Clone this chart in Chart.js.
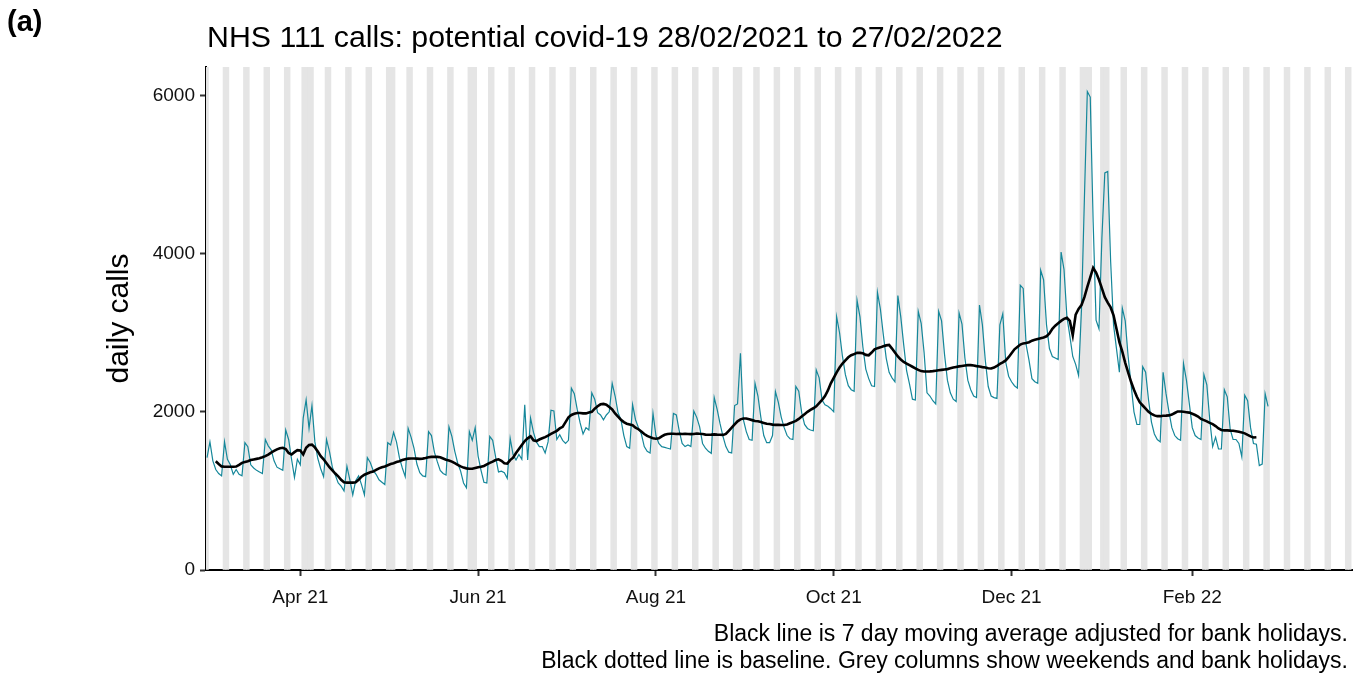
<!DOCTYPE html>
<html>
<head>
<meta charset="utf-8">
<script src="https://cdn.jsdelivr.net/npm/chart.js@4.4.1/dist/chart.umd.min.js"></script>
<style>
  html, body { margin: 0; padding: 0; background: #fff; }
  #wrap { width: 1362px; height: 674px; position: relative; }
</style>
</head>
<body>
<div id="wrap"><canvas id="chart" width="1362" height="674"></canvas></div>
<script>
// daily calls, one value a day starting 28/02/2021 (rows are Sun..Sat)
var startDate = '2021-02-28';
var dailyCalls = [
  1420,1620,1380,1270,1220,1190,1620,
  1400,1330,1210,1270,1210,1190,1610,
  1560,1330,1290,1260,1240,1220,1650,
  1570,1520,1380,1300,1280,1260,1770,
  1650,1400,1170,1400,1330,1920,2150,
  1790,2080,1620,1410,1280,1180,1650,
  1500,1300,1200,1100,1060,1000,1310,
  1140,950,1130,1190,1080,950,1420,
  1360,1260,1210,1140,1110,1080,1610,
  1580,1740,1620,1420,1290,1180,1790,
  1680,1540,1340,1230,1190,1180,1750,
  1700,1490,1370,1260,1220,1200,1810,
  1690,1500,1350,1250,1100,1040,1750,
  1640,1800,1440,1260,1110,1100,1690,
  1640,1430,1240,1250,1230,1160,1665,
  1460,1390,1460,1400,2090,1390,1920,
  1740,1620,1560,1560,1480,1620,2020,
  2010,1650,1710,1640,1600,1640,2300,
  2230,2030,1860,1720,1800,1770,2240,
  2160,1990,1960,1900,1960,2000,2360,
  2200,1990,1900,1700,1560,1540,2090,
  1900,1800,1720,1560,1500,1480,1980,
  1700,1600,1560,1550,1540,1530,1980,
  1960,1760,1600,1560,1580,1560,2010,
  1930,1810,1600,1540,1500,1475,2180,
  2030,1850,1690,1560,1490,1480,2080,
  2100,2740,1900,1750,1650,1640,2360,
  2200,1930,1700,1610,1610,1700,2255,
  2120,1930,1800,1700,1660,1650,2320,
  2260,1990,1840,1790,1770,1760,2530,
  2430,2150,2090,2070,2040,2000,3200,
  3000,2700,2470,2330,2280,2260,3410,
  3200,2820,2540,2420,2330,2320,3510,
  3300,2980,2680,2500,2430,2380,3470,
  3200,2850,2520,2350,2160,2150,3270,
  3120,2750,2240,2200,2140,2100,3270,
  3150,2730,2400,2240,2160,2130,3250,
  3110,2680,2400,2280,2200,2180,3350,
  3100,2650,2320,2200,2180,2170,3100,
  3240,2630,2450,2380,2330,2300,3600,
  3560,2850,2650,2420,2380,2360,3790,
  3670,3100,2800,2700,2680,2660,4020,
  3800,3200,2960,2700,2600,2460,3300,
  4700,6050,5980,4400,3160,3050,4200,
  5020,5040,3900,3100,2800,2500,3310,
  3150,2700,2350,2000,1840,1840,2570,
  2500,2150,1870,1720,1650,1620,2500,
  2230,2000,1800,1700,1660,1640,2610,
  2400,2100,1800,1700,1670,1650,2470,
  2340,1900,1560,1680,1530,1530,2280,
  2190,1780,1650,1650,1600,1430,2210,
  2140,1800,1600,1590,1320,1340,2230,
  2070
];

// 7 day moving average, first value is 03/03/2021
var avgStart = '2021-03-03';
var movingAvg = [
  1375,1340,1310,1305,1305,1305,1305,
  1308,1330,1355,1365,1375,1390,1398,
  1405,1412,1425,1440,1460,1485,1505,
  1525,1540,1545,1530,1480,1460,1490,
  1515,1510,1460,1545,1580,1585,1550,
  1500,1440,1400,1350,1300,1260,1220,
  1185,1140,1110,1105,1105,1105,1110,
  1140,1180,1205,1220,1235,1245,1265,
  1285,1300,1310,1325,1340,1350,1365,
  1375,1390,1400,1408,1410,1410,1408,
  1405,1408,1415,1425,1430,1432,1430,
  1425,1410,1395,1385,1370,1350,1330,
  1310,1295,1285,1280,1280,1290,1300,
  1305,1315,1335,1355,1370,1390,1400,
  1380,1350,1345,1390,1420,1480,1530,
  1580,1630,1665,1690,1640,1630,1650,
  1665,1680,1700,1720,1740,1760,1790,
  1810,1870,1930,1960,1975,1985,1985,
  1980,1980,1990,2000,2040,2070,2095,
  2100,2090,2060,2030,1980,1940,1900,
  1870,1850,1840,1830,1800,1780,1750,
  1720,1695,1680,1665,1660,1665,1690,
  1710,1720,1722,1722,1720,1722,1720,
  1722,1720,1718,1720,1725,1722,1720,
  1712,1710,1712,1715,1712,1710,1708,
  1720,1760,1800,1840,1880,1905,1915,
  1915,1905,1895,1885,1880,1870,1860,
  1850,1845,1838,1835,1835,1833,1833,
  1840,1855,1870,1885,1910,1940,1970,
  2000,2025,2045,2070,2110,2150,2200,
  2270,2360,2430,2500,2560,2610,2650,
  2690,2715,2730,2745,2745,2740,2720,
  2715,2750,2790,2805,2815,2830,2840,
  2845,2800,2750,2700,2660,2630,2610,
  2590,2570,2550,2530,2515,2510,2510,
  2512,2515,2520,2525,2530,2535,2540,
  2550,2560,2568,2575,2580,2585,2590,
  2590,2585,2578,2572,2565,2560,2550,
  2548,2560,2580,2605,2625,2650,2690,
  2740,2790,2820,2850,2865,2870,2880,
  2900,2910,2920,2930,2940,2955,2990,
  3050,3090,3120,3150,3175,3190,3150,
  2970,3230,3300,3350,3450,3580,3700,
  3820,3760,3670,3560,3450,3380,3320,
  3220,3050,2880,2760,2620,2500,2380,
  2280,2190,2120,2080,2040,2000,1975,
  1955,1945,1945,1950,1952,1955,1965,
  1985,2005,2005,2000,1995,1990,1975,
  1960,1940,1910,1895,1880,1860,1845,
  1820,1790,1770,1765,1765,1762,1760,
  1755,1748,1740,1728,1708,1690,1675,
  1678
];

var bankHolidays = ['2021-04-02', '2021-04-05', '2021-05-03', '2021-05-31',
  '2021-08-30', '2021-12-27', '2021-12-28', '2022-01-03'];
var shadeEnd = '2022-03-27';

var xTickDates = ['2021-04-01', '2021-06-01', '2021-08-01', '2021-10-01', '2021-12-01', '2022-02-01'];
var xTickLabels = ['Apr 21', 'Jun 21', 'Aug 21', 'Oct 21', 'Dec 21', 'Feb 22'];
var yTicks = [0, 2000, 4000, 6000];
var yMax = 6360;

var FONT = "'Liberation Sans', Arial, sans-serif";
var DAY = 86400000;

// days since the first date of the series
function dayOf(s) {
  var p = s.split('-');
  var base = startDate.split('-');
  return Math.round((Date.UTC(+p[0], p[1] - 1, +p[2]) - Date.UTC(+base[0], base[1] - 1, +base[2])) / DAY);
}

function isoOf(d) {
  var base = startDate.split('-');
  return new Date(Date.UTC(+base[0], base[1] - 1, +base[2]) + d * DAY).toISOString().slice(0, 10);
}

var callsPts = dailyCalls.map(function (v, i) { return { x: i, y: v }; });
var avgPts = movingAvg.map(function (v, i) { return { x: dayOf(avgStart) + i, y: v }; });

// grey columns: weekends and bank holidays
var shadePts = [];
for (var d = 0; d <= dayOf(shadeEnd); d++) {
  var iso = isoOf(d);
  var dow = new Date(iso + 'T00:00:00Z').getUTCDay();
  if (dow === 0 || dow === 6 || bankHolidays.indexOf(iso) >= 0) {
    shadePts.push({ x: d, y: yMax });
  }
}

// title, panel tag and caption
var textPlugin = {
  id: 'texts',
  afterDraw: function (chart) {
    var c = chart.ctx;
    c.save();
    c.fillStyle = '#000';
    c.textBaseline = 'alphabetic';
    c.textAlign = 'left';
    c.font = 'bold 29px ' + FONT;
    c.fillText('(a)', 7, 31);
    c.font = '30.3px ' + FONT;
    c.fillText('NHS 111 calls: potential covid-19 28/02/2021 to 27/02/2022', 207, 47);
    c.textAlign = 'right';
    c.font = '23px ' + FONT;
    c.fillText('Black line is 7 day moving average adjusted for bank holidays.', 1348, 641);
    c.fillText('Black dotted line is baseline. Grey columns show weekends and bank holidays.', 1348, 668);
    c.restore();
  }
};

var ctx = document.getElementById('chart').getContext('2d');
new Chart(ctx, {
  type: 'line',
  data: {
    datasets: [
      {
        type: 'bar',
        data: shadePts,
        backgroundColor: '#e5e5e5',
        borderWidth: 0,
        barPercentage: 1,
        categoryPercentage: 1,
        order: 3
      },
      {
        data: callsPts,
        borderColor: '#15879a',
        borderWidth: 1.2,
        pointRadius: 0,
        fill: false,
        order: 2
      },
      {
        data: avgPts,
        borderColor: '#000',
        borderWidth: 2.6,
        pointRadius: 0,
        fill: false,
        order: 1
      }
    ]
  },
  options: {
    responsive: false,
    animation: false,
    layout: { padding: { top: 67, right: 10, left: 0, bottom: 0 } },
    plugins: { legend: { display: false }, tooltip: { enabled: false } },
    scales: {
      x: {
        type: 'linear',
        min: -0.35,
        max: 392.8,
        offset: false,
        grid: { display: true, offset: false, drawOnChartArea: false, drawTicks: true, tickLength: 6, tickWidth: 2, tickColor: '#333' },
        border: { display: true, color: '#000', width: 2 },
        ticks: {
          font: { family: FONT, size: 19 },
          color: '#111',
          padding: 10,
          maxRotation: 0,
          autoSkip: false,
          callback: function (v) {
            var k = xTickDates.map(dayOf).indexOf(v);
            return k >= 0 ? xTickLabels[k] : '';
          }
        },
        afterBuildTicks: function (s) {
          s.ticks = xTickDates.map(function (t) { return { value: dayOf(t) }; });
        },
        afterFit: function (s) { s.height = 104; }
      },
      y: {
        min: 0,
        max: yMax,
        grid: { display: true, drawOnChartArea: false, drawTicks: true, tickLength: 6, tickWidth: 2, tickColor: '#333' },
        border: { display: true, color: '#000', width: 2 },
        ticks: {
          font: { family: FONT, size: 19 },
          color: '#111',
          padding: 5,
          callback: function (v) { return String(v); }
        },
        afterBuildTicks: function (s) {
          s.ticks = yTicks.map(function (t) { return { value: t }; });
        },
        title: {
          display: true,
          text: 'daily calls',
          color: '#000',
          font: { family: FONT, size: 30 },
          padding: { top: 102, bottom: 0 }
        },
        afterFit: function (s) { s.width = 206; }
      }
    }
  },
  plugins: [textPlugin]
});
</script>
</body>
</html>
